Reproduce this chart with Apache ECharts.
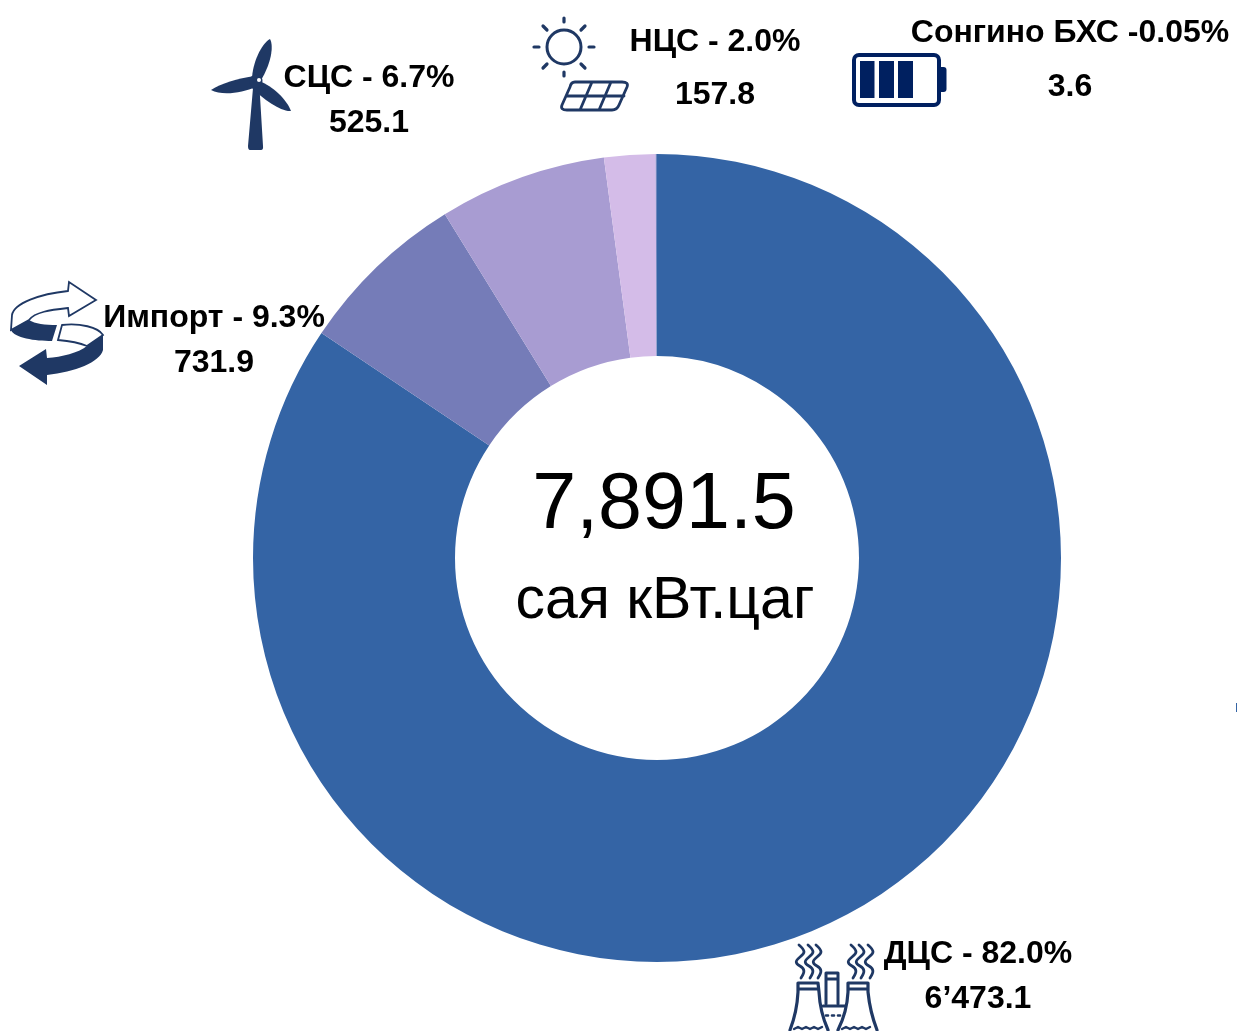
<!DOCTYPE html>
<html><head><meta charset="utf-8">
<style>html,body{margin:0;padding:0;background:#fff}#c{width:1237px;height:1031px}</style>
<script src="https://cdn.jsdelivr.net/npm/echarts@6/dist/echarts.min.js"></script>
</head><body><div id="c"></div>
<script>
// Data
const categories = ['ДЦС', 'Импорт', 'СЦС', 'НЦС', 'Сонгино БХС'];
const sliceShares = [84.4, 6.8, 6.7, 2.05, 0.05]; // slice sizes as drawn in the picture (%)
const shareLabels = ['82.0%', '9.3%', '6.7%', '2.0%', '-0.05%'];
const amountLabels = ['6’473.1', '731.9', '525.1', '157.8', '3.6'];
const totalLabel = '7,891.5';
const unitLabel = 'сая кВт.цаг';

// Style and layout
const colors = ['#3464A5', '#757CB8', '#A89CD2', '#D4BCE8', '#6F86BE'];
const labelSeparators = [' - ', ' - ', ' - ', ' - ', ' '];
const labelAnchors = [[978, 954, 999], [214, 318, 363], [369, 78, 123], [715, 42, 95], [1070, 33, 87]];
const font = '"Liberation Sans", Arial, sans-serif';
const navy = '#1F3864';

const chart = echarts.init(document.getElementById('c'), null, {renderer: 'canvas'});

let shapeCount = 0;
const pathType = d => {
  const name = 'iconPath' + (shapeCount++);
  echarts.graphic.registerShape(name, echarts.graphic.extendPath(d, {}));
  return name;
};

const txt = (t, x, y, size, weight) => ({
  type: 'text', x, y, silent: true,
  style: {text: t, fill: '#000', font: `${weight} ${size}px ${font}`, textAlign: 'center', textVerticalAlign: 'middle'}
});
const fillPath = (d, fill) => ({type: pathType(d), silent: true, style: {fill: fill || navy, stroke: null}});
const linePath = (d, w, stroke) => ({type: pathType(d), silent: true,
  style: {fill: null, stroke: stroke || navy, lineWidth: w || 2.5, lineCap: 'round', lineJoin: 'round'}});
const outlined = (d, w) => ({type: pathType(d), silent: true,
  style: {fill: '#fff', stroke: navy, lineWidth: w || 1.8, lineJoin: 'miter'}});

const labelTexts = [];
categories.forEach((c, i) => {
  const a = labelAnchors[i];
  labelTexts.push(txt(c + labelSeparators[i] + shareLabels[i], a[0], a[1], 32, 'bold'));
  labelTexts.push(txt(amountLabels[i], a[0], a[2], 32, 'bold'));
});

const turbine = [
  fillPath('M253,88 L248,146 Q248,150 250,150 L261,150 Q263.5,150 263,146 L259.5,88 Z'),
  fillPath('M252,80 C252,64 261,44 270,39 C274,46 271,64 261,80 Z'),
  fillPath('M255,76 C238,78 220,84 211,90 C222,96 242,93 256,87 Z'),
  fillPath('M259,81 C273,86 287,100 291,111 C281,112 263,99 252,88 Z'),
  {type: 'circle', silent: true, shape: {cx: 256, cy: 81, r: 6.5}, style: {fill: navy}},
  {type: 'circle', silent: true, shape: {cx: 259, cy: 80, r: 2}, style: {fill: '#fff'}}
];

const sun = [
  {type: 'circle', silent: true, shape: {cx: 564, cy: 47, r: 17}, style: {fill: null, stroke: navy, lineWidth: 3}},
  linePath('M564,18 L564,22 M564,72 L564,76 M534,47 L539,47 M589,47 L594,47 M543,26 L547,30 M585,26 L581,30 M543,68 L547,64 M585,68 L581,64', 3.2),
  linePath('M575,82 L622,82 Q629,82 627,87 L619,105 Q617,110 612,110 L567,110 Q560,110 562,105 L570,87 Q571,82 575,82 Z M566,96 L624,96 M592,82 L580,110 M611,82 L599,110', 2.8)
];

const battery = [
  {type: 'rect', silent: true, shape: {x: 854, y: 55, width: 85, height: 50, r: 5}, style: {fill: '#fff', stroke: '#002060', lineWidth: 4}},
  {type: 'rect', silent: true, shape: {x: 941, y: 67, width: 5.5, height: 25, r: [0, 3, 3, 0]}, style: {fill: '#002060'}},
  {type: 'rect', silent: true, shape: {x: 860, y: 61, width: 14.5, height: 37}, style: {fill: '#002060'}},
  {type: 'rect', silent: true, shape: {x: 879, y: 61, width: 15, height: 37}, style: {fill: '#002060'}},
  {type: 'rect', silent: true, shape: {x: 898, y: 61, width: 15, height: 37}, style: {fill: '#002060'}}
];

const arrows = [
  outlined('M96,300 L69,282 L68,291 C40,294 14,303 12,315 L11,330 L29,320 C35,312 50,310 68,308 L69,316 Z'),
  fillPath('M11,330 L29,320 C35,324 45,325 57,325 L52,341 C35,341 14,338 11,330 Z'),
  outlined('M62,325 C80,323 98,327 103,335 L87,346 C80,343 70,341 58,340 Z'),
  fillPath('M103,335 L103,350 C100,362 75,372 47,375 L47,385 L19,366 L46,349 L47,358 C62,357 78,353 87,346 Z')
];

const squiggle = x => `M${x - 1},945 C${x + 6},951 ${x + 5},953 ${x},957 C${x - 5},961 ${x - 5},963 ${x},966 C${x + 5},969 ${x + 5},972 ${x + 1},978`;
const plant = [
  linePath([800, 809, 817, 852, 860, 869].map(squiggle).join(' '), 2.8),
  linePath('M798,983 L818,983 L819,992 Q820,1012 828,1030 M798,983 L798,992 Q797,1012 790,1030 M798,989 L818,989', 3.2),
  linePath('M848,983 L868,983 L868,992 Q870,1012 877,1030 M848,983 L848,992 Q847,1012 838,1030 M848,989 L868,989', 3.2),
  linePath('M826,973 L838,973 L838,1004 M826,973 L826,1004 M826,979 L838,979', 3),
  linePath('M823,1006 L845,1006', 3),
  linePath('M826,1015.5 L828,1015.5 M832,1015.5 L834,1015.5 M838,1015.5 L840,1015.5', 2.6),
  linePath('M794,1029 L798,1027 L802,1029 L806,1027 L810,1029 L814,1027 L818,1029 L822,1027 M842,1029 L846,1027 L850,1029 L854,1027 L858,1029 L862,1027 L866,1029 L870,1027', 2.4)
];

chart.setOption({
  animation: false,
  backgroundColor: '#fff',
  series: [{
    type: 'pie',
    center: [657, 558],
    radius: [202, 404],
    startAngle: 90,
    clockwise: true,
    silent: true,
    label: {show: false},
    labelLine: {show: false},
    itemStyle: {borderWidth: 0},
    data: categories.map((name, i) => ({name, value: sliceShares[i], itemStyle: {color: colors[i]}}))
  }],
  graphic: {elements: [
    ...turbine, ...sun, ...battery, ...arrows, ...plant,
    ...labelTexts,
    txt(totalLabel, 664, 506, 79, 'normal'),
    txt(unitLabel, 665, 602, 59, 'normal'),
    {type: 'rect', silent: true, shape: {x: 1236, y: 703, width: 1, height: 9}, style: {fill: '#3464A5'}}
  ]}
});
</script></body></html>
